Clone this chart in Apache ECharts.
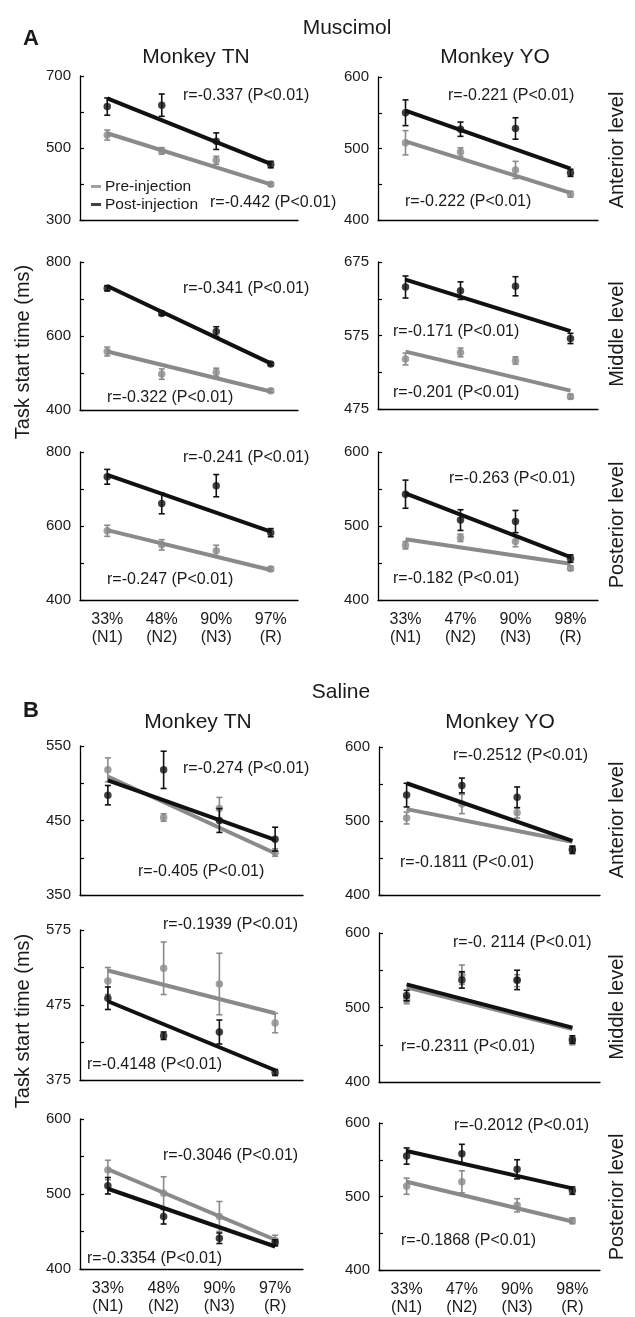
<!DOCTYPE html>
<html>
<head>
<meta charset="utf-8">
<script src="https://cdn.jsdelivr.net/npm/echarts@6/dist/echarts.min.js"></script>
<style>
html,body{margin:0;padding:0;background:#fff;}
#chart{width:635px;height:1317px;}
</style>
</head>
<body>
<div id="chart"></div>
<script>
// ---------- categories ----------
const catsTN = ['33%\n(N1)', '48%\n(N2)', '90%\n(N3)', '97%\n(R)'];
const catsYO = ['33%\n(N1)', '47%\n(N2)', '90%\n(N3)', '98%\n(R)'];

// ---------- y tick values / labels ----------
const ticks300_700 = [300, 400, 500, 600, 700];
const labels300_700 = [300, 500, 700];
const ticks400_800 = [400, 500, 600, 700, 800];
const labels400_800 = [400, 600, 800];
const ticks400_600 = [400, 450, 500, 550, 600];
const labels400_600 = [400, 500, 600];
const ticks475_675 = [475, 525, 575, 625, 675];
const labels475_675 = [475, 575, 675];
const ticks350_550 = [350, 400, 450, 500, 550];
const labels350_550 = [350, 450, 550];
const ticks375_575 = [375, 425, 475, 525, 575];
const labels375_575 = [375, 475, 575];

// ---------- Muscimol, Monkey TN ----------
const musTNAntPre = [536, 492, 466, 399];
const musTNAntPreErr = [14, 9, 11, 5];
const musTNAntPost = [615, 619, 519, 454];
const musTNAntPostErr = [24, 31, 23, 9];
const musTNAntPreFit = [541, 399];
const musTNAntPostFit = [638, 456];

const musTNMidPre = [558, 497, 502, 452];
const musTNMidPreErr = [12, 14, 11, 5];
const musTNMidPost = [729, 661, 612, 524];
const musTNMidPostErr = [7, 5, 13, 4];
const musTNMidPreFit = [558, 450];
const musTNMidPostFit = [735, 526];

const musTNPosPre = [587, 549, 533, 484];
const musTNPosPreErr = [15, 14, 15, 6];
const musTNPosPost = [733, 661, 709, 582];
const musTNPosPostErr = [20, 28, 30, 11];
const musTNPosPreFit = [589, 481];
const musTNPosPostFit = [738, 585];

// ---------- Muscimol, Monkey YO ----------
const musYOAntPre = [508, 495, 470, 436];
const musYOAntPreErr = [17, 6, 12, 4];
const musYOAntPost = [550, 527, 528, 466];
const musYOAntPostErr = [18, 10, 15, 5];
const musYOAntPreFit = [510, 438];
const musYOAntPostFit = [553, 472];

const musYOMidPre = [543, 552, 541, 492];
const musYOMidPreErr = [8, 6, 5, 3];
const musYOMidPost = [641, 636, 642, 571];
const musYOMidPostErr = [15, 12, 13, 7];
const musYOMidPreFit = [553, 500];
const musYOMidPostFit = [651, 581];

const musYOPosPre = [474, 484, 479, 443];
const musYOPosPreErr = [5, 5, 7, 3];
const musYOPosPost = [543, 508, 506, 456];
const musYOPosPostErr = [19, 14, 15, 5];
const musYOPosPreFit = [482, 449];
const musYOPosPostFit = [544, 458];

// ---------- Saline, Monkey TN ----------
const salTNAntPre = [518, 454, 466, 407];
const salTNAntPreErr = [16, 5, 15, 5];
const salTNAntPost = [484, 518, 450, 425];
const salTNAntPostErr = [13, 25, 16, 16];
const salTNAntPreFit = [509, 406];
const salTNAntPostFit = [504, 424];

const salTNMidPre = [507, 524, 503, 451];
const salTNMidPreErr = [18, 35, 41, 13];
const salTNMidPost = [484, 434, 439, 385];
const salTNMidPostErr = [15, 5, 16, 4];
const salTNMidPreFit = [521, 464];
const salTNMidPostFit = [480, 388];

const salTNPosPre = [532, 501, 470, 438];
const salTNPosPreErr = [13, 22, 20, 7];
const salTNPosPost = [511, 470, 441, 435];
const salTNPosPostErr = [11, 10, 7, 4];
const salTNPosPreFit = [533, 439];
const salTNPosPostFit = [507, 430];

// ---------- Saline, Monkey YO ----------
const salYOAntPre = [504, 523, 511, 462];
const salYOAntPreErr = [8, 13, 7, 4];
const salYOAntPost = [535, 548, 532, 461];
const salYOAntPostErr = [16, 10, 14, 5];
const salYOAntPreFit = [516, 472];
const salYOAntPostFit = [551, 473];

const salYOMidPre = [510, 544, 536, 454];
const salYOMidPreErr = [5, 13, 8, 4];
const salYOMidPost = [516, 537, 537, 457];
const salYOMidPostErr = [7, 11, 13, 5];
const salYOMidPreFit = [527, 471];
const salYOMidPostFit = [531, 473];

const salYOPosPre = [514, 520, 488, 467];
const salYOPosPreErr = [11, 15, 9, 4];
const salYOPosPost = [555, 558, 537, 508];
const salYOPosPostErr = [11, 13, 13, 5];
const salYOPosPreFit = [520, 466];
const salYOPosPostFit = [562, 511];

// ---------- r texts ----------
const rTexts = [
  'r=-0.337 (P<0.01)', 'r=-0.442 (P<0.01)',
  'r=-0.221 (P<0.01)', 'r=-0.222 (P<0.01)',
  'r=-0.341 (P<0.01)', 'r=-0.322 (P<0.01)',
  'r=-0.171 (P<0.01)', 'r=-0.201 (P<0.01)',
  'r=-0.241 (P<0.01)', 'r=-0.247 (P<0.01)',
  'r=-0.263 (P<0.01)', 'r=-0.182 (P<0.01)',
  'r=-0.274 (P<0.01)', 'r=-0.405 (P<0.01)',
  'r=-0.2512 (P<0.01)', 'r=-0.1811 (P<0.01)',
  'r=-0.1939 (P<0.01)', 'r=-0.4148 (P<0.01)',
  'r=-0. 2114 (P<0.01)', 'r=-0.2311 (P<0.01)',
  'r=-0.3046 (P<0.01)', 'r=-0.3354 (P<0.01)',
  'r=-0.2012 (P<0.01)', 'r=-0.1868 (P<0.01)'
];
const levelNames = ['Anterior level', 'Middle level', 'Posterior level'];

// ---------- layout (positions only) ----------
const FONT = "'Liberation Sans', Arial, Helvetica, sans-serif";
const GRAY = '#8a8a8a';
const BLACK = '#111111';
const TXT = '#1a1a1a';

const panels = [
  {cats: catsTN, pre: musTNAntPre, preErr: musTNAntPreErr, post: musTNAntPost, postErr: musTNAntPostErr, preFit: musTNAntPreFit, postFit: musTNAntPostFit, ticks: ticks300_700, labels: labels300_700, showX: false, grid: [80, 76, 218, 144], r: [[183, 96], [210, 203]]},
  {cats: catsYO, pre: musYOAntPre, preErr: musYOAntPreErr, post: musYOAntPost, postErr: musYOAntPostErr, preFit: musYOAntPreFit, postFit: musYOAntPostFit, ticks: ticks400_600, labels: labels400_600, showX: false, grid: [378, 77, 220, 143], r: [[448, 96], [405, 202]]},
  {cats: catsTN, pre: musTNMidPre, preErr: musTNMidPreErr, post: musTNMidPost, postErr: musTNMidPostErr, preFit: musTNMidPreFit, postFit: musTNMidPostFit, ticks: ticks400_800, labels: labels400_800, showX: false, grid: [80, 262, 218, 148], r: [[183, 289], [107, 398]]},
  {cats: catsYO, pre: musYOMidPre, preErr: musYOMidPreErr, post: musYOMidPost, postErr: musYOMidPostErr, preFit: musYOMidPreFit, postFit: musYOMidPostFit, ticks: ticks475_675, labels: labels475_675, showX: false, grid: [378, 262, 220, 147], r: [[393, 332], [393, 393]]},
  {cats: catsTN, pre: musTNPosPre, preErr: musTNPosPreErr, post: musTNPosPost, postErr: musTNPosPostErr, preFit: musTNPosPreFit, postFit: musTNPosPostFit, ticks: ticks400_800, labels: labels400_800, showX: true, grid: [80, 452, 218, 148], r: [[183, 458], [107, 580]]},
  {cats: catsYO, pre: musYOPosPre, preErr: musYOPosPreErr, post: musYOPosPost, postErr: musYOPosPostErr, preFit: musYOPosPreFit, postFit: musYOPosPostFit, ticks: ticks400_600, labels: labels400_600, showX: true, grid: [378, 452, 220, 148], r: [[449, 479], [393, 579]]},
  {cats: catsTN, pre: salTNAntPre, preErr: salTNAntPreErr, post: salTNAntPost, postErr: salTNAntPostErr, preFit: salTNAntPreFit, postFit: salTNAntPostFit, ticks: ticks350_550, labels: labels350_550, showX: false, grid: [80, 746, 223, 149], r: [[183, 769], [138, 872]]},
  {cats: catsYO, pre: salYOAntPre, preErr: salYOAntPreErr, post: salYOAntPost, postErr: salYOAntPostErr, preFit: salYOAntPreFit, postFit: salYOAntPostFit, ticks: ticks400_600, labels: labels400_600, showX: false, grid: [379, 747, 221, 148], r: [[453, 756], [400, 863]]},
  {cats: catsTN, pre: salTNMidPre, preErr: salTNMidPreErr, post: salTNMidPost, postErr: salTNMidPostErr, preFit: salTNMidPreFit, postFit: salTNMidPostFit, ticks: ticks375_575, labels: labels375_575, showX: false, grid: [80, 930, 223, 150], r: [[163, 925], [87, 1065]]},
  {cats: catsYO, pre: salYOMidPre, preErr: salYOMidPreErr, post: salYOMidPost, postErr: salYOMidPostErr, preFit: salYOMidPreFit, postFit: salYOMidPostFit, ticks: ticks400_600, labels: labels400_600, showX: false, grid: [379, 933, 221, 149], r: [[453, 943], [401, 1047]]},
  {cats: catsTN, pre: salTNPosPre, preErr: salTNPosPreErr, post: salTNPosPost, postErr: salTNPosPostErr, preFit: salTNPosPreFit, postFit: salTNPosPostFit, ticks: ticks400_600, labels: labels400_600, showX: true, grid: [80, 1119, 223, 150], r: [[163, 1156], [87, 1259]]},
  {cats: catsYO, pre: salYOPosPre, preErr: salYOPosPreErr, post: salYOPosPost, postErr: salYOPosPostErr, preFit: salYOPosPreFit, postFit: salYOPosPostFit, ticks: ticks400_600, labels: labels400_600, showX: true, grid: [379, 1123, 221, 150], r: [[454, 1126], [401, 1241]]}
];

// ---------- build option ----------
const grids = [], xAxes = [], yAxes = [], series = [], graphics = [];

function errRender(color) {
  return function (params, api) {
    const k = api.value(0), m = api.value(1), e = api.value(2);
    const t = api.coord([k, m + e]);
    const b = api.coord([k, m - e]);
    const w = 3;
    const st = {stroke: color, lineWidth: 1.6};
    return {
      type: 'group',
      children: [
        {type: 'line', shape: {x1: t[0], y1: t[1], x2: b[0], y2: b[1]}, style: st},
        {type: 'line', shape: {x1: t[0] - w, y1: t[1], x2: t[0] + w, y2: t[1]}, style: st},
        {type: 'line', shape: {x1: b[0] - w, y1: b[1], x2: b[0] + w, y2: b[1]}, style: st}
      ]
    };
  };
}

panels.forEach((p, i) => {
  grids.push({left: p.grid[0], top: p.grid[1], width: p.grid[2], height: p.grid[3], containLabel: false});
  xAxes.push({
    type: 'category', gridIndex: i, data: p.cats, boundaryGap: true,
    axisLine: {onZero: false, lineStyle: {color: '#000', width: 1.3}},
    axisTick: {inside: true, length: 4, lineStyle: {color: '#000', width: 1.2}},
    axisLabel: {show: p.showX, interval: 0, fontSize: 16, lineHeight: 18, color: TXT, fontFamily: FONT, margin: 11},
    splitLine: {show: false}
  });
  yAxes.push({
    type: 'value', gridIndex: i,
    min: p.ticks[0], max: p.ticks[p.ticks.length - 1],
    axisLine: {show: true, lineStyle: {color: '#000', width: 1.3}},
    axisTick: {show: true, inside: true, length: 4, customValues: p.ticks, lineStyle: {color: '#000', width: 1.2}},
    axisLabel: {customValues: p.labels, fontSize: 15, color: TXT, fontFamily: FONT, margin: 9},
    splitLine: {show: false}
  });
  const groups = [
    {name: 'Pre-injection', color: GRAY, mean: p.pre, err: p.preErr, fit: p.preFit},
    {name: 'Post-injection', color: BLACK, mean: p.post, err: p.postErr, fit: p.postFit}
  ];
  groups.forEach((g, gi) => {
    const zb = gi * 10;
    series.push({
      type: 'line', xAxisIndex: i, yAxisIndex: i,
      data: [g.fit[0], null, null, g.fit[1]], connectNulls: true,
      symbol: 'none', lineStyle: {color: g.color, width: 4}, silent: true, z: 2 + zb, animation: false
    });
    series.push({
      type: 'custom', xAxisIndex: i, yAxisIndex: i,
      data: g.mean.map((m, k) => [k, m, g.err[k]]),
      encode: {x: 0, y: 1},
      renderItem: errRender(g.color), silent: true, z: 3 + zb, animation: false
    });
    series.push({
      type: 'scatter', name: g.name, xAxisIndex: i, yAxisIndex: i,
      data: g.mean, symbol: 'circle', symbolSize: 7.5,
      itemStyle: {color: g.color}, silent: true, z: 4 + zb, animation: false
    });
  });
  graphics.push({type: 'text', x: p.r[0][0], y: p.r[0][1], style: {text: rTexts[2 * i], font: '16px ' + FONT, fill: TXT, align: 'left', verticalAlign: 'middle', textAlign: 'left', textVerticalAlign: 'middle'}});
  graphics.push({type: 'text', x: p.r[1][0], y: p.r[1][1], style: {text: rTexts[2 * i + 1], font: '16px ' + FONT, fill: TXT, align: 'left', verticalAlign: 'middle', textAlign: 'left', textVerticalAlign: 'middle'}});
});

function centerText(text, x, y, font, rot) {
  graphics.push({type: 'text', x: x, y: y, rotation: rot || 0,
    style: {text: text, font: font, fill: TXT, align: 'center', verticalAlign: 'middle', textAlign: 'center', textVerticalAlign: 'middle'}});
}
centerText('Muscimol', 347, 28, '21px ' + FONT);
centerText('Saline', 341, 692, '21px ' + FONT);
centerText('A', 31, 39, 'bold 22px ' + FONT);
centerText('B', 31, 711, 'bold 22px ' + FONT);
centerText('Monkey TN', 196, 57, '21px ' + FONT);
centerText('Monkey YO', 495, 57, '21px ' + FONT);
centerText('Monkey TN', 198, 722, '21px ' + FONT);
centerText('Monkey YO', 500, 722, '21px ' + FONT);
centerText('Task start time (ms)', 23, 352, '20px ' + FONT, Math.PI / 2);
centerText('Task start time (ms)', 23, 1021, '20px ' + FONT, Math.PI / 2);
[150, 334, 525].forEach((y, k) => centerText(levelNames[k], 617, y, '20px ' + FONT, Math.PI / 2));
[820, 1007, 1197].forEach((y, k) => centerText(levelNames[k], 617, y, '20px ' + FONT, Math.PI / 2));

const option = {
  backgroundColor: '#ffffff',
  animation: false,
  grid: grids,
  xAxis: xAxes,
  yAxis: yAxes,
  series: series,
  legend: {
    show: true, orient: 'vertical', left: 86, top: 173,
    itemWidth: 10, itemHeight: 3, itemGap: 1, icon: 'rect', selectedMode: false,
    data: [
      {name: 'Pre-injection', itemStyle: {color: GRAY}},
      {name: 'Post-injection', itemStyle: {color: BLACK}}
    ],
    textStyle: {fontSize: 15.5, lineHeight: 17, color: TXT, fontFamily: FONT, padding: [0, 0, 0, -1]}
  },
  graphic: {elements: graphics}
};

const chart = echarts.init(document.getElementById('chart'), null, {renderer: 'canvas'});
chart.setOption(option);
</script>
</body>
</html>
